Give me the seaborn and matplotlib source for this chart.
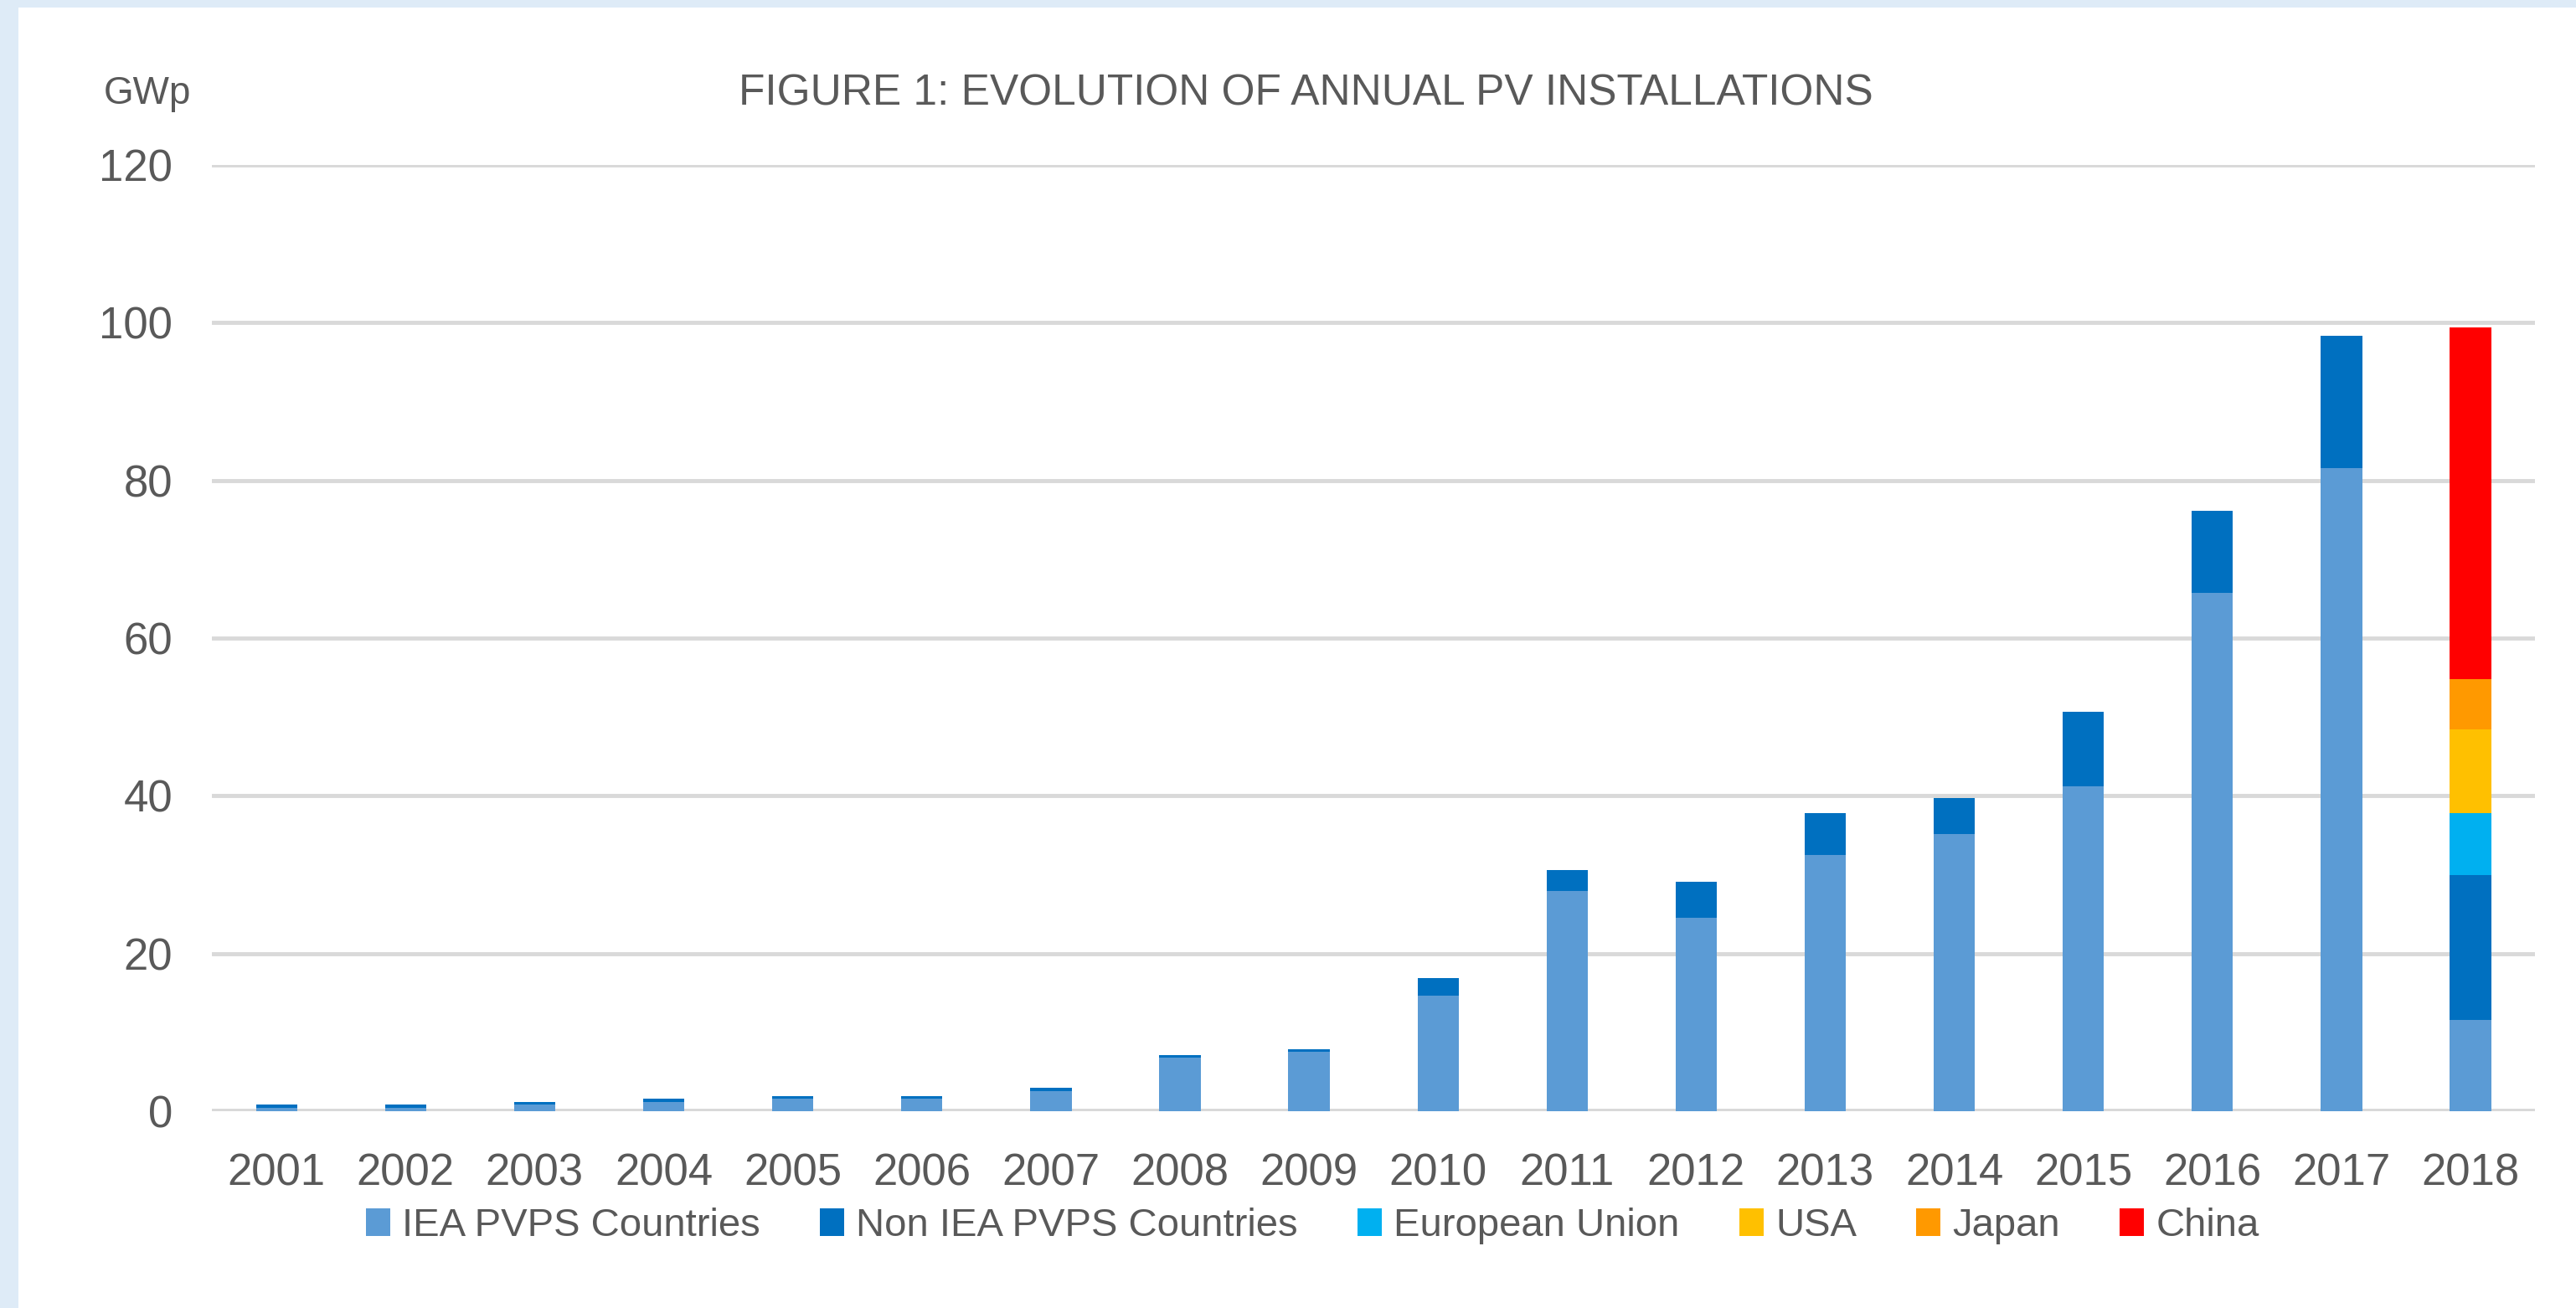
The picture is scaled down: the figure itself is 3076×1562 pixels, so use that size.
import numpy as np
import pandas as pd
import seaborn as sns
import matplotlib.pyplot as plt
from matplotlib.patches import Patch, Rectangle

# values (GWp)
years = [str(y) for y in range(2001, 2019)]
iea_pvps = [0.39, 0.39, 0.82, 1.13, 1.56, 1.56, 2.54, 6.77, 7.5, 14.7,
            27.9, 24.55, 32.5, 35.1, 41.2, 65.7, 81.6, 11.6]
non_iea = [0.43, 0.43, 0.31, 0.43, 0.32, 0.32, 0.42, 0.32, 0.33, 2.2,
           2.7, 4.55, 5.3, 4.6, 9.4, 10.4, 16.7, 18.3]
# 2018 split into regions
eu_2018 = 7.9
usa_2018 = 10.6
japan_2018 = 6.4
china_2018 = 44.6

series_names = ['IEA PVPS Countries', 'Non IEA PVPS Countries', 'European Union',
                'USA', 'Japan', 'China']
series_colors = ['#5B9BD5', '#0070C0', '#00B0F0', '#FFC000', '#FF9900', '#FF0000']

sns.set_style('white')
plt.rcParams['font.family'] = ['Liberation Sans Narrow', 'Liberation Sans', 'DejaVu Sans']
text_color = '#595959'

# build cumulative tops for stacking (seaborn draws overlapping bars)
base = pd.DataFrame({'year': years,
                     'IEA PVPS Countries': iea_pvps,
                     'Non IEA PVPS Countries': non_iea})
base['cum1'] = base['IEA PVPS Countries']
base['cum2'] = base['cum1'] + base['Non IEA PVPS Countries']
top18 = base['cum2'].iloc[-1]
extra = pd.DataFrame({
    'year': ['2018'] * 4,
    'series': ['European Union', 'USA', 'Japan', 'China'],
    'value': [eu_2018, usa_2018, japan_2018, china_2018],
})
extra['cum'] = top18 + extra['value'].cumsum()

fig = plt.figure(figsize=(30.76, 15.62), dpi=100)
fig.patch.set_facecolor('#DEEBF7')
fig.add_artist(Rectangle((22 / 3076, 0), 1, 1 - 9 / 1562, transform=fig.transFigure,
                         facecolor='white', edgecolor='none', zorder=-1))
ax = fig.add_axes([0.0823, 0.1505, 0.9018, 0.7234])

bar_kw = dict(order=years, width=0.32, saturation=1, errorbar=None, ax=ax,
              zorder=3, linewidth=0, edgecolor='none')
# draw from the tallest stack down so lower segments sit on top
for i in range(3, -1, -1):
    row = extra.iloc[[i]]
    sns.barplot(x=row['year'], y=row['cum'], color=series_colors[2 + i], **bar_kw)
sns.barplot(data=base, x='year', y='cum2', color=series_colors[1], **bar_kw)
sns.barplot(data=base, x='year', y='cum1', color=series_colors[0], **bar_kw)

ax.set_xlim(-0.5, len(years) - 0.5)
ax.set_ylim(0, 120)
ax.set_yticks(range(0, 121, 20))
ax.set_xlabel('')
ax.set_ylabel('')
ax.set_facecolor('none')
sns.despine(ax=ax, left=True, bottom=True)
ax.yaxis.grid(True, color='#D9D9D9', linewidth=3.5)
ax.xaxis.grid(False)
ax.set_axisbelow(True)
ax.axhline(0, color='#D9D9D9', linewidth=5, zorder=1)
ax.tick_params(axis='both', length=0, labelsize=38, colors=text_color)
ax.tick_params(axis='x', pad=36)
ax.tick_params(axis='y', pad=34)

fig.text(124 / 3076, 1 - 112 / 1562, 'GWp', ha='left', va='center',
         fontsize=33, color=text_color)
fig.text(0.507, 1 - 112 / 1562, 'FIGURE 1: EVOLUTION OF ANNUAL PV INSTALLATIONS',
         ha='center', va='center', fontsize=37, color=text_color)

handles = [Patch(facecolor=c, edgecolor='none', label=n)
           for n, c in zip(series_names, series_colors)]
leg = fig.legend(handles=handles, loc='center', bbox_to_anchor=(0.5095, 1 - 1464 / 1562),
                 ncol=6, frameon=False, fontsize=34, handlelength=0.62, handleheight=0.7,
                 handletextpad=0.3, columnspacing=1.5)
for t in leg.get_texts():
    t.set_color(text_color)

fig.savefig('out.png', dpi=100, facecolor=fig.get_facecolor())
